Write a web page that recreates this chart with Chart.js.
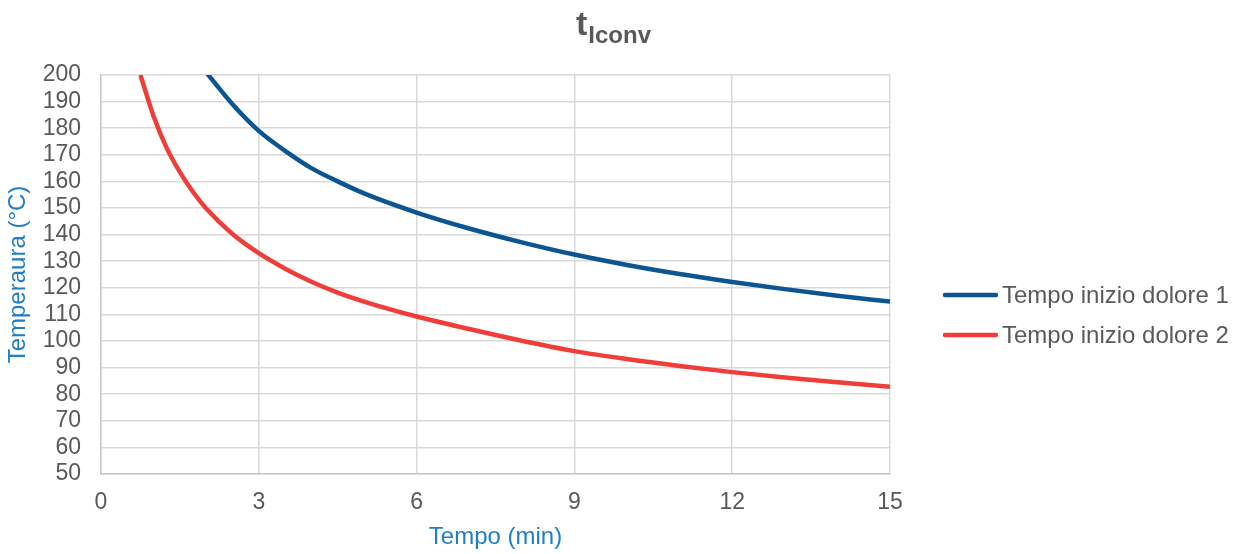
<!DOCTYPE html>
<html>
<head>
<meta charset="utf-8">
<script src="https://cdn.jsdelivr.net/npm/chart.js@4/dist/chart.umd.min.js"></script>
<style>
  html, body { margin: 0; padding: 0; background: #fff; }
  #wrap { width: 1242px; height: 554px; }
</style>
</head>
<body>
<div id="wrap"><canvas id="c" width="1242" height="554"></canvas></div>
<script>
// tempo (min) e temperatura (°C) per le due curve
const tempo1 = [2, 2.5, 3, 3.5, 4, 4.5, 5, 6, 7, 8, 9, 10, 11, 12, 13, 14, 15];
const temp1  = [201, 189, 179, 171.5, 165, 160, 155.5, 148.3, 142.3, 137.1, 132.5, 128.6, 125.2, 122.2, 119.5, 117, 114.8];
const tempo2 = [0.75, 1, 1.25, 1.5, 1.75, 2, 2.5, 3, 3.5, 4, 4.5, 5, 6, 7, 8, 9, 10, 11, 12, 13, 14, 15];
const temp2  = [200, 184.5, 172.5, 163.5, 156, 149.8, 140.2, 133, 127.2, 122.3, 118.2, 114.8, 109.2, 104.5, 100.1, 96.2, 93.2, 90.6, 88.3, 86.3, 84.5, 82.8];
const labels = ['Tempo inizio dolore 1', 'Tempo inizio dolore 2'];
const colori = ['#0b5592', '#ef3e3a'];

const GRIGIO = '#595959';
const BLU_TITOLI = '#1f7ec6';
const FONT = 'Liberation Sans, Arial, sans-serif';

const punti = (xs, ys) => xs.map((x, i) => ({ x: x, y: ys[i] }));

// titolo "t" con pedice "Iconv"
const titoloPlugin = {
    id: 'titolo',
    afterDraw(chart) {
        const ctx = chart.ctx;
        ctx.save();
        ctx.fillStyle = GRIGIO;
        ctx.textBaseline = 'alphabetic';
        ctx.textAlign = 'left';
        ctx.font = 'bold 34px ' + FONT;
        const x0 = 576;
        ctx.fillText('t', x0, 35);
        const w = ctx.measureText('t').width;
        ctx.font = 'bold 24px ' + FONT;
        ctx.fillText('Iconv', x0 + w + 1, 43);
        ctx.restore();
    }
};

// legenda a destra: tratto di linea + etichetta
const legendaPlugin = {
    id: 'legenda',
    afterDraw(chart) {
        const ctx = chart.ctx;
        ctx.save();
        chart.data.datasets.forEach((ds, i) => {
            const y = 295 + i * 40;
            ctx.strokeStyle = ds.borderColor;
            ctx.lineWidth = 4.5;
            ctx.lineCap = 'round';
            ctx.beginPath();
            ctx.moveTo(945, y);
            ctx.lineTo(996, y);
            ctx.stroke();
            ctx.fillStyle = GRIGIO;
            ctx.font = '24px ' + FONT;
            ctx.textBaseline = 'middle';
            ctx.textAlign = 'left';
            ctx.fillText(ds.label, 1002, y + 1);
        });
        ctx.restore();
    }
};

new Chart(document.getElementById('c'), {
    type: 'line',
    data: {
        datasets: [
            { label: labels[0], data: punti(tempo1, temp1), borderColor: colori[0], borderWidth: 4.5,
              pointRadius: 0, cubicInterpolationMode: 'monotone', fill: false },
            { label: labels[1], data: punti(tempo2, temp2), borderColor: colori[1], borderWidth: 4.5,
              pointRadius: 0, cubicInterpolationMode: 'monotone', fill: false }
        ]
    },
    options: {
        responsive: false,
        animation: false,
        layout: { padding: { left: 0, top: 75, right: 352, bottom: 0 } },
        plugins: {
            legend: { display: false },
            title: { display: false },
            tooltip: { enabled: false }
        },
        scales: {
            x: {
                type: 'linear', min: 0, max: 15,
                afterFit: s => { s.height = 80; },
                grid: { color: '#d9d9d9', lineWidth: 1.5, drawTicks: false },
                border: { color: '#c9c9c9', width: 1.5 },
                ticks: { stepSize: 3, padding: 15, autoSkip: false, color: GRIGIO, font: { family: FONT, size: 23 } },
                title: { display: true, text: 'Tempo (min)', color: BLU_TITOLI,
                         font: { family: FONT, size: 24 }, padding: { top: 0, bottom: 2 } }
            },
            y: {
                min: 50, max: 200,
                afterFit: s => { s.width = 101; },
                grid: { color: '#d9d9d9', lineWidth: 1.5, drawTicks: false },
                border: { color: '#c9c9c9', width: 1.5 },
                ticks: { stepSize: 10, padding: 20, autoSkip: false, color: GRIGIO, font: { family: FONT, size: 23 } },
                title: { display: true, text: 'Temperaura (°C)', color: BLU_TITOLI,
                         font: { family: FONT, size: 24 }, padding: { top: 4, bottom: 0 } }
            }
        }
    },
    plugins: [titoloPlugin, legendaPlugin]
});
</script>
</body>
</html>
